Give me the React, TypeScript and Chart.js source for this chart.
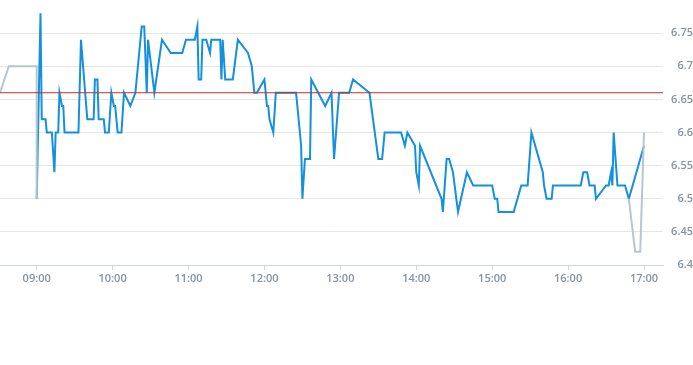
import React, { useEffect, useRef } from "react";
import { Chart, registerables } from "chart.js";

Chart.register(...registerables);

// Regular session (blue)
const blueTimes = [
  "09:00", "09:03", "09:04", "09:07", "09:08", "09:12", "09:14", "09:15", "09:17", "09:18",
  "09:20", "09:21", "09:22", "09:33", "09:35", "09:40", "09:45", "09:46", "09:48", "09:49",
  "09:53", "09:54", "09:57", "09:59", "10:01", "10:02", "10:04", "10:07", "10:09", "10:14",
  "10:18", "10:23", "10:25", "10:27", "10:28", "10:33", "10:39", "10:46", "10:55", "10:58",
  "11:05", "11:07", "11:08", "11:10", "11:11", "11:14", "11:17", "11:18", "11:25", "11:26",
  "11:27", "11:29", "11:35", "11:39", "11:47", "11:50", "11:52", "11:54", "12:00", "12:02",
  "12:03", "12:04", "12:07", "12:09", "12:25", "12:29", "12:30", "12:32", "12:36", "12:37",
  "12:48", "12:53", "12:55", "12:59", "13:07", "13:10", "13:23", "13:30", "13:33", "13:35",
  "13:48", "13:51", "13:53", "13:59", "14:00", "14:02", "14:03", "14:20", "14:21", "14:24",
  "14:26", "14:29", "14:33", "14:40", "14:45", "15:00", "15:02", "15:04", "15:05", "15:17",
  "15:23", "15:28", "15:31", "15:40", "15:41", "15:43", "15:47", "15:48", "16:10", "16:12",
  "16:15", "16:17", "16:21", "16:22", "16:30", "16:32", "16:34", "16:35", "16:36", "16:39",
  "16:45", "16:48", "17:00",
];
const blueValues = [
  6.5, 6.78, 6.62, 6.62, 6.6, 6.6, 6.54, 6.6, 6.6, 6.66,
  6.64, 6.64, 6.6, 6.6, 6.74, 6.62, 6.62, 6.68, 6.68, 6.62,
  6.62, 6.6, 6.6, 6.66, 6.64, 6.64, 6.6, 6.6, 6.66, 6.64,
  6.66, 6.76, 6.76, 6.66, 6.74, 6.66, 6.74, 6.72, 6.72, 6.74,
  6.74, 6.76, 6.68, 6.68, 6.74, 6.74, 6.72, 6.74, 6.74, 6.68,
  6.74, 6.68, 6.68, 6.74, 6.72, 6.7, 6.66, 6.66, 6.68, 6.64,
  6.64, 6.62, 6.6, 6.66, 6.66, 6.58, 6.5, 6.56, 6.56, 6.68,
  6.64, 6.66, 6.56, 6.66, 6.66, 6.68, 6.66, 6.56, 6.56, 6.6,
  6.6, 6.58, 6.6, 6.58, 6.54, 6.52, 6.58, 6.5, 6.48, 6.56,
  6.56, 6.54, 6.48, 6.54, 6.52, 6.52, 6.5, 6.5, 6.48, 6.48,
  6.52, 6.52, 6.6, 6.54, 6.52, 6.5, 6.5, 6.52, 6.52, 6.54,
  6.54, 6.52, 6.52, 6.5, 6.52, 6.52, 6.54, 6.52, 6.6, 6.52,
  6.52, 6.5, 6.58,
];

// Pre-market and closing auction (grey)
const preTimes = ["08:31", "08:38", "09:00", "09:00"];
const preValues = [6.66, 6.7, 6.7, 6.5];
const postTimes = ["16:48", "16:53", "16:57", "17:00"];
const postValues = [6.5, 6.42, 6.42, 6.6];

const prevClose = 6.66;

const xTickLabels = ["09:00", "10:00", "11:00", "12:00", "13:00", "14:00", "15:00", "16:00", "17:00"];
const yTickValues = [6.4, 6.45, 6.5, 6.55, 6.6, 6.65, 6.7, 6.75];
const xRange = ["08:31", "17:15"];
const yRange = [6.4, 6.8];

const toMin = (t: string) => {
  const [h, m] = t.split(":").map(Number);
  return h * 60 + m;
};
const fmt = (v: number) => {
  const h = Math.floor(v / 60);
  const m = Math.round(v - h * 60);
  return String(h).padStart(2, "0") + ":" + String(m).padStart(2, "0");
};
const pts = (times: string[], vals: number[]) => times.map((t, i) => ({ x: toMin(t), y: vals[i] }));

const FONT = { family: "'Open Sans', 'Liberation Sans', Arial, sans-serif", size: 11, weight: "600" };
const LABEL_COLOR = "#87929e";

export default function App() {
  const ref = useRef<HTMLCanvasElement>(null);
  useEffect(() => {
    if (!ref.current) return;
    const chart = new Chart(ref.current, {
      type: "line",
      data: {
        datasets: [
          {
            data: [
              { x: toMin(xRange[0]), y: prevClose },
              { x: toMin(xRange[1]), y: prevClose },
            ],
            borderColor: "#b8302a",
            borderWidth: 1,
            pointRadius: 0,
          },
          {
            data: pts(preTimes, preValues),
            borderColor: "#bac5ce",
            borderWidth: 2,
            pointRadius: 0,
          },
          {
            data: pts(postTimes, postValues),
            borderColor: "#bac5ce",
            borderWidth: 2,
            pointRadius: 0,
          },
          {
            data: pts(blueTimes, blueValues),
            borderColor: "#1590dc",
            borderWidth: 2,
            pointRadius: 0,
          },
        ],
      },
      options: {
        animation: false,
        responsive: true,
        maintainAspectRatio: false,
        layout: { padding: 0 },
        plugins: { legend: { display: false }, tooltip: { enabled: false } },
        elements: { line: { tension: 0 } },
        scales: {
          x: {
            type: "linear",
            min: toMin(xRange[0]),
            max: toMin(xRange[1]),
            afterBuildTicks: (scale: any) => {
              scale.ticks = xTickLabels.map((l) => ({ value: toMin(l) }));
            },
            afterFit: (scale: any) => {
              scale.height = 100;
              scale.paddingLeft = 0;
              scale.paddingRight = 0;
            },
            grid: { drawOnChartArea: false, drawTicks: true, tickLength: 5, color: "#ccd6df" },
            border: { display: true, color: "#ccd6df", width: 1 },
            ticks: {
              autoSkip: false,
              maxRotation: 0,
              padding: 2,
              color: LABEL_COLOR,
              font: FONT,
              callback: (v: any) => fmt(Number(v)),
            },
          },
          y: {
            position: "right",
            min: yRange[0],
            max: yRange[1],
            afterBuildTicks: (scale: any) => {
              scale.ticks = yTickValues.map((v) => ({ value: v }));
            },
            afterFit: (scale: any) => {
              scale.width = 30;
              scale.paddingTop = 0;
              scale.paddingBottom = 0;
            },
            grid: { drawTicks: false, color: "#e6e6e6" },
            border: { display: false },
            ticks: {
              crossAlign: "far",
              padding: 0,
              color: LABEL_COLOR,
              font: FONT,
              callback: (v: any) => String(Number(v)),
            },
          },
        },
      },
    } as any);
    return () => chart.destroy();
  }, []);
  return (
    <div style={{ position: "fixed", left: 0, top: 0, width: 693, height: 365, background: "#fff" }}>
      <canvas ref={ref} />
    </div>
  );
}
